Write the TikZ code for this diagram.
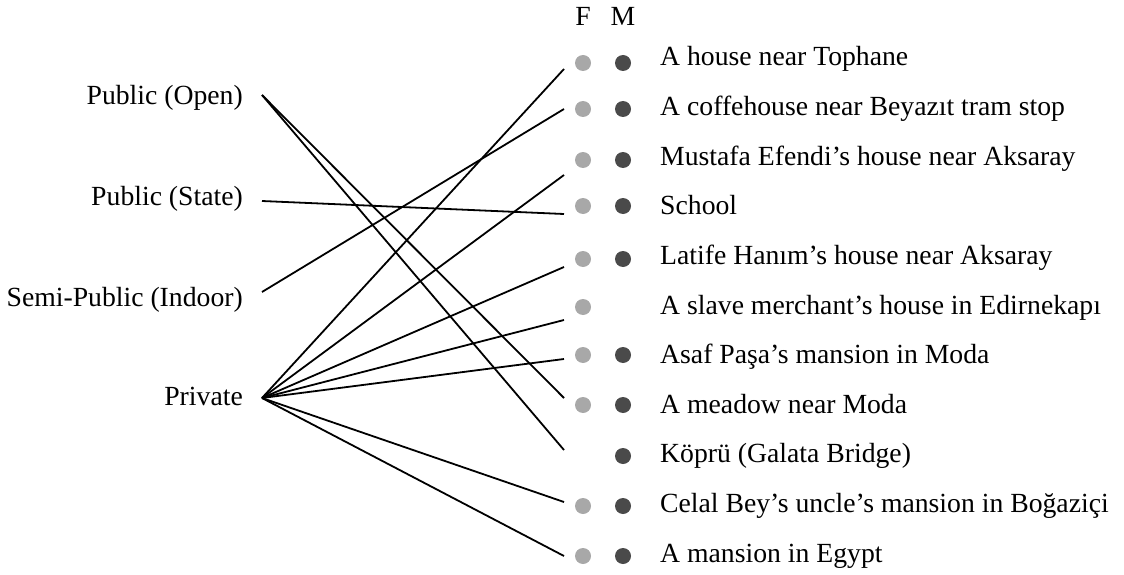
\documentclass[tikz,border=0pt]{standalone}
\usepackage{fontspec}
\setmainfont{Liberation Serif}
\begin{document}
\begin{tikzpicture}[x=1pt,y=-1pt,
  lbl/.style={font=\fontsize{27.7}{32}\selectfont, inner sep=0pt},
  fdot/.style={circle, fill=fcol, inner sep=0pt, minimum size=16pt},
  mdot/.style={circle, fill=mcol, inner sep=0pt, minimum size=16pt},
  link/.style={line width=1.8pt, black}]
\definecolor{fcol}{HTML}{A8A8A8}
\definecolor{mcol}{HTML}{4A4A4A}
\useasboundingbox (0,0) rectangle (1124,575);

% column headers
\node[lbl, anchor=base] (hf) at (583,26) {F};
\node[lbl, anchor=base] (hm) at (623,26) {M};

% categories
\node[lbl, anchor=base east] (open)  at (243,105) {Public (Open)};
\node[lbl, anchor=base east] (state) at (243,205) {Public (State)};
\node[lbl, anchor=base east] (semi)  at (243,306) {Semi-Public (Indoor)};
\node[lbl, anchor=base east] (priv)  at (243,405) {Private};

% places: dot row, text baseline, label, F dot, M dot
\foreach \i/\y/\b/\t/\f/\m in {
  1/63/66/{A house near Tophane}/1/1,
  2/109/115.6/{A coffehouse near Beyazıt tram stop}/1/1,
  3/160/165.2/{Mustafa Efendi’s house near Aksaray}/1/1,
  4/206/214.8/{School}/1/1,
  5/259/264.4/{Latife Hanım’s house near Aksaray}/1/1,
  6/307/314/{A slave merchant’s house in Edirnekapı}/1/0,
  7/355/363.6/{Asaf Paşa’s mansion in Moda}/1/1,
  8/405/413.2/{A meadow near Moda}/1/1,
  9/456/462.8/{Köprü (Galata Bridge)}/0/1,
  10/506/512.4/{Celal Bey’s uncle’s mansion in Boğaziçi}/1/1,
  11/556/562/{A mansion in Egypt}/1/1}{
  \node[lbl, anchor=base west] (p\i) at (660,\b) {\t};
  \ifnum\f=1 \node[fdot] (f\i) at (583,\y) {}; \fi
  \ifnum\m=1 \node[mdot] (m\i) at (623,\y) {}; \fi
}

% line ends
\coordinate (sOpen)  at (262,95);
\coordinate (sState) at (262,201);
\coordinate (sSemi)  at (262,292);
\coordinate (sPriv)  at (262,398);
\coordinate (e1)  at (564,69);
\coordinate (e2)  at (564,109);
\coordinate (e3)  at (564,175);
\coordinate (e4)  at (564,214);
\coordinate (e5)  at (564,267);
\coordinate (e6)  at (564,320);
\coordinate (e7)  at (564,359);
\coordinate (e8)  at (564,398);
\coordinate (e9)  at (564,450);
\coordinate (e10) at (564,502);
\coordinate (e11) at (564,556);

% links
\draw[link] (sOpen) -- (e8);
\draw[link] (sOpen) -- (e9);
\draw[link] (sState) -- (e4);
\draw[link] (sSemi) -- (e2);
\foreach \k in {1,3,5,6,7,10,11} \draw[link] (sPriv) -- (e\k);
\end{tikzpicture}
\end{document}
